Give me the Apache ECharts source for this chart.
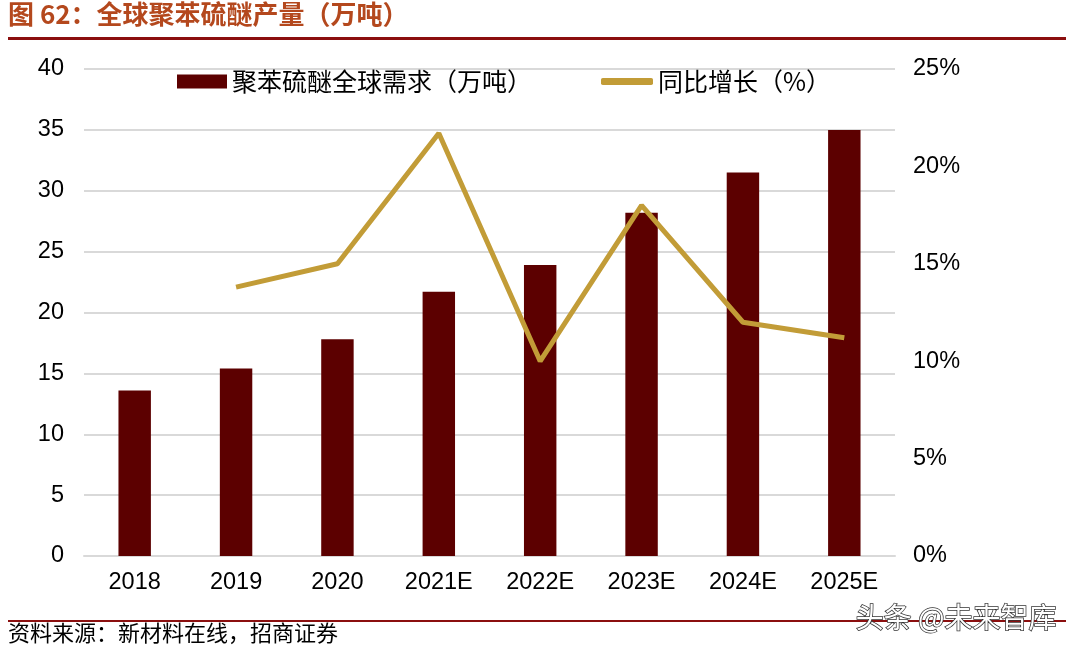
<!DOCTYPE html>
<html><head><meta charset="utf-8">
<script src="https://cdn.jsdelivr.net/npm/echarts@6/dist/echarts.min.js"></script>
<style>html,body{margin:0;padding:0;background:#fff}#c{width:1076px;height:650px}</style>
</head><body><div id="c"></div>
<script>
const categories = ['2018','2019','2020','2021E','2022E','2023E','2024E','2025E'];
const demand = [13.6, 15.4, 17.8, 21.7, 23.9, 28.2, 31.5, 35.0];
const growth = [null, 0.138, 0.150, 0.217, 0.100, 0.180, 0.120, 0.112];
const leftTicks = {min: 0, max: 40, interval: 5};
const rightTicks = {min: 0, max: 0.25, interval: 0.05};

const chart = echarts.init(document.getElementById('c'));
const latin = '"Liberation Sans", Arial, sans-serif';
const cjk = '"Noto Sans CJK SC", sans-serif';
chart.setOption({
  animation: false,
  backgroundColor: '#fff',
  grid: {left: 84, right: 181, top: 69, bottom: 94},
  legend: [
    {left: 172, top: 64, itemWidth: 50, itemHeight: 14, itemGap: 6,
     data: [{name: '聚苯硫醚全球需求（万吨）', icon: 'rect'}],
     textStyle: {fontSize: 25, color: '#000', fontFamily: cjk}},
    {left: 596, top: 64, itemWidth: 52, itemHeight: 7, itemGap: 6,
     data: [{name: '同比增长（%）', icon: 'roundRect'}],
     itemStyle: {color: '#c29c37'},
     textStyle: {fontSize: 25, color: '#000', fontFamily: cjk}}
  ],
  xAxis: {
    type: 'category', data: categories,
    axisLine: {lineStyle: {color: '#d9d9d9', width: 2}},
    axisTick: {show: false},
    axisLabel: {fontSize: 23.5, color: '#000', fontFamily: latin, margin: 15}
  },
  yAxis: [
    {type: 'value', min: leftTicks.min, max: leftTicks.max, interval: leftTicks.interval,
     axisLine: {show: false}, axisTick: {show: false},
     axisLabel: {fontSize: 23.5, color: '#000', fontFamily: latin, margin: 20},
     splitLine: {lineStyle: {color: '#d9d9d9', width: 2}}},
    {type: 'value', min: rightTicks.min, max: rightTicks.max, interval: rightTicks.interval,
     axisLine: {show: false}, axisTick: {show: false},
     axisLabel: {fontSize: 23.5, color: '#000', fontFamily: latin, margin: 18,
       formatter: v => Math.round(v * 100) + '%'},
     splitLine: {show: false}}
  ],
  series: [
    {name: '聚苯硫醚全球需求（万吨）', type: 'bar', data: demand, barWidth: '32%',
     itemStyle: {color: '#5c0000'}},
    {name: '同比增长（%）', type: 'line', yAxisIndex: 1, data: growth,
     showSymbol: false, symbol: 'none', connectNulls: false,
     lineStyle: {color: '#c29c37', width: 5}, itemStyle: {color: '#c29c37'}}
  ],
  graphic: [
    {type: 'text', left: 8, top: 1, style: {text: '图 62：全球聚苯硫醚产量（万吨）',
      fill: '#b4481d', font: 'bold 26px ' + cjk}},
    {type: 'rect', shape: {x: 8, y: 37, width: 1058, height: 3}, style: {fill: '#8b0f0f'}},
    {type: 'rect', shape: {x: 8, y: 620, width: 1058, height: 2}, style: {fill: '#8b0f0f'}},
    {type: 'text', left: 8, top: 622, style: {text: '资料来源：新材料在线，招商证券',
      fill: '#000', font: '22px ' + cjk}},
    {type: 'text', left: 855, top: 603, style: {text: '头条 @未来智库',
      fill: '#fff', stroke: '#333', lineWidth: 1.5, font: '28px ' + cjk}}
  ]
});
</script></body></html>
